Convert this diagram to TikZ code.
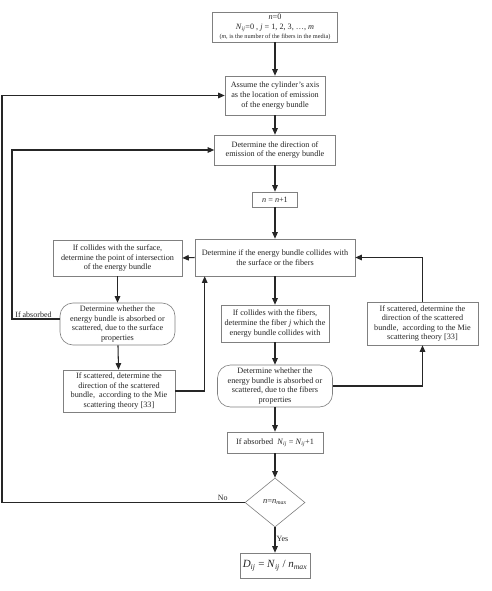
\documentclass[tikz,border=0pt]{standalone}
\usepackage{fontspec}
\setmainfont{Liberation Serif}
\usetikzlibrary{shapes.geometric,arrows.meta}
\begin{document}
\begin{tikzpicture}[x=1pt,y=-1pt,
  base/.style={draw=black!50,line width=0.6pt,align=center,fill=white,
    font=\fontsize{8.2}{9.6}\selectfont,inner sep=1pt,text=black!85},
  rbox/.style={base,rounded corners=13pt},
  dia/.style={base,diamond,aspect=1.22,inner sep=0pt,minimum width=60pt,minimum height=49pt},
  conn/.style={draw=black!85,line width=1.05pt},
  arr/.style={conn,-{Triangle[length=6.5pt,width=5.5pt]}},
  lbl/.style={font=\fontsize{8}{9}\selectfont,text=black!85,inner sep=1pt}]
\useasboundingbox (0,0) rectangle (491,591);
\fill[white] (0,0) rectangle (491,591);

\node[base,minimum width=125pt,minimum height=30pt] (top) at (275,27)
  {\textit{n}=0\\ \textit{N}\textsubscript{\textit{ij}}=0 , \textit{j} = 1, 2, 3, \dots, \textit{m}\\
   {\fontsize{6.3}{7.5}\selectfont (\textit{m}, is the number of the fibers in the media)}};
\node[base,minimum width=100pt,minimum height=39pt] (box2) at (275,95.5)
  {Assume the cylinder's axis\\ as the location of emission\\ of the energy bundle};
\node[base,minimum width=121pt,minimum height=30pt] (box3) at (275,150)
  {Determine the direction of\\ emission of the energy bundle};
\node[base,minimum width=45pt,minimum height=15pt] (nbox) at (275,199.5)
  {\textit{n} = \textit{n}+1};
\node[base,minimum width=160pt,minimum height=37pt] (collide) at (275,257.5)
  {Determine if the energy bundle collides with\\ the surface or the fibers};
\node[base,minimum width=129pt,minimum height=36pt] (surf) at (117.5,258)
  {If collides with the surface,\\ determine the point of intersection\\ of the energy bundle};
\node[rbox,minimum width=115pt,minimum height=42pt] (surfdec) at (117.5,324)
  {Determine whether the\\ energy bundle is absorbed or\\ scattered, due to the surface\\ properties};
\node[base,minimum width=112pt,minimum height=42pt] (surfscat) at (119,391)
  {If scattered, determine the\\ direction of the scattered\\ bundle,\ \ according to the Mie\\ scattering theory [33]};
\node[base,minimum width=108pt,minimum height=37pt] (fib) at (275,323.5)
  {If collides with the fibers,\\ determine the fiber \textit{j} which the\\ energy bundle collides with};
\node[rbox,minimum width=115pt,minimum height=42pt] (fibdec) at (275,386)
  {Determine whether the\\ energy bundle is absorbed or\\ scattered, due to the fibers\\ properties};
\node[base,minimum width=96pt,minimum height=21pt] (absorbed) at (275,442.5)
  {If absorbed\ \ \textit{N}\textsubscript{\textit{ij}} = \textit{N}\textsubscript{\textit{ij}}+1};
\node[dia] (diamond) at (275,502.5)
  {{\fontsize{8.5}{9}\selectfont\textit{n}=\textit{n}\textsubscript{\textit{max}}}};
\node[base,minimum width=70pt,minimum height=25pt,font=\fontsize{11}{13}\selectfont] (final) at (275,565.5)
  {\textit{D}\textsubscript{\textit{ij}} = \textit{N}\textsubscript{\textit{ij}} / \textit{n}\textsubscript{\textit{max}}};
\node[base,minimum width=111pt,minimum height=43pt] (rscat) at (422.5,323.5)
  {If scattered, determine the\\ direction of the scattered\\ bundle,\ \ according to the Mie\\ scattering theory [33]};

\coordinate (leftin) at (12,0);
\coordinate (leftout) at (2,0);
\coordinate (absout) at ([yshift=5pt]surfdec.west);

\draw[arr] (top) -- (box2);
\draw[arr] (box2) -- (box3);
\draw[arr] (box3) -- (nbox);
\draw[arr] (nbox) -- (collide);
\draw[arr] (collide) -- (fib);
\draw[arr] (fib) -- (fibdec);
\draw[arr] (fibdec) -- (absorbed);
\draw[arr] (absorbed) -- (diamond);
\draw[arr] (diamond) -- node[lbl,right,pos=0.45]{Yes} (final);
\draw[arr] (collide.west) -- (surf.east);
\draw[arr] (surf) -- (surfdec);
\draw[arr] (surfdec) -- (surfscat);
\draw[arr] (surfscat.east) -| ([xshift=10pt]collide.south west);
\draw[arr] (absout) -- node[lbl,above,pos=0.55]{If absorbed} (leftin |- absout) -- (leftin |- box3.west) -- (box3.west);
\draw[arr] (diamond.west) -- node[lbl,above,pos=0.09]{No} (leftout |- diamond.west) -- (leftout |- box2.west) -- (box2.west);
\draw[arr] (fibdec.east) -| (rscat.south);
\draw[arr] (rscat.north) |- (collide.east);
\end{tikzpicture}
\end{document}
